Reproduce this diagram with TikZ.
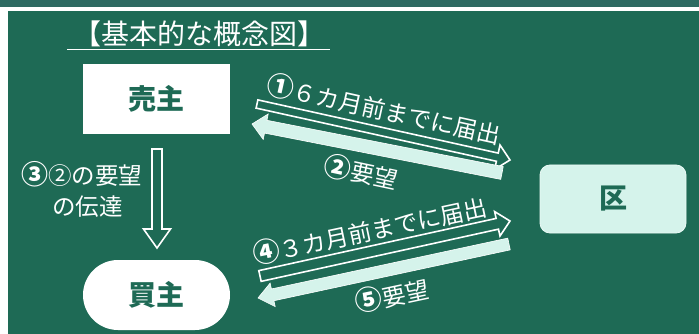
\documentclass[tikz,border=0pt]{standalone}
\usepackage{fontspec}
\setmainfont{Noto Sans CJK JP}
\usetikzlibrary{calc}
\definecolor{bg}{HTML}{1E6A55}
\definecolor{band}{HTML}{2E6A61}
\definecolor{mint}{HTML}{D5F3EB}
\definecolor{dk}{HTML}{1E6A55}
\newcommand{\blockarr}[6]{%
  \coordinate (bah) at ($(#2)!#5!(#1)$);
  \draw[#6] ($(#1)!#3!90:(#2)$) -- ($(bah)!#3!90:(#2)$) -- ($(bah)!#4!90:(#2)$) -- (#2)
    -- ($(bah)!#4!-90:(#2)$) -- ($(bah)!#3!-90:(#2)$) -- ($(#1)!#3!-90:(#2)$) -- cycle;}
\newcommand{\cnum}[1]{{\bfseries\fontsize{27}{27}\selectfont #1}}
\tikzset{
  lbl/.style={text=white,font=\fontsize{23.5}{25}\selectfont,inner sep=0pt},
  hollowarr/.style={draw=white,line width=1.6pt,line join=miter},
  fillarr/.style={fill=mint,draw=white,line width=0.6pt,line join=miter},
  party/.style={fill=white,text=dk,font=\bfseries\fontsize{28}{30}\selectfont,
    minimum width=147pt,minimum height=70pt,inner sep=0pt},
}
\begin{document}
\begin{tikzpicture}[x=1pt,y=-1pt]
\fill[white] (0,0) rectangle (699,334);
\fill[band] (0,0) rectangle (699,7.5);
\fill[bg] (8,11) rectangle (699,334);
\useasboundingbox (0,0) rectangle (699,334);

% title
\node[text=white,font=\fontsize{28}{30}\selectfont,inner sep=0pt] (title) at (199,34) {【基本的な概念図】};
\coordinate (ulA) at (67,49.5);
\coordinate (ulB) at (330,49.5);
\draw[white,line width=1.5pt] (ulA) -- (ulB);

% parties
\node[party] (seller) at (156.5,99) {売主};
\node[party,rounded corners=35pt] (buyer) at (156.5,295) {買主};
\node[fill=mint,draw=white!50!mint,line width=0.8pt,rounded corners=10pt,
  minimum width=146pt,minimum height=68pt,inner sep=0pt,text=dk,
  font=\bfseries\fontsize{28}{30}\selectfont] (ward) at (613,199) {区};

% down arrow seller -> buyer
\coordinate (d1) at (157,149);
\coordinate (d2) at (157,248);
\blockarr{d1}{d2}{5pt}{13.5pt}{19pt}{hollowarr}
\node[lbl] (l3a) at (81.5,174) {\cnum{③}②の要望};
\node[lbl] (l3b) at (87.5,207) {の伝達};

% seller <-> ward
\coordinate (a1s) at (257,104);
\coordinate (a1e) at (510,160);
\blockarr{a1s}{a1e}{4.2pt}{12.5pt}{13pt}{hollowarr}
\coordinate (a2s) at (502,173);
\coordinate (a2e) at (252,124);
\blockarr{a2s}{a2e}{6.5pt}{13pt}{14pt}{fillarr}
\node[lbl,rotate=-12.5] (l1) at (384,109) {\cnum{①}６カ月前までに届出};
\node[lbl,rotate=-12] (l2) at (361,172) {\cnum{②}要望};

% buyer <-> ward
\coordinate (a4s) at (260,276);
\coordinate (a4e) at (510,221);
\blockarr{a4s}{a4e}{5.5pt}{12.5pt}{13pt}{hollowarr}
\coordinate (a5s) at (509,244);
\coordinate (a5e) at (258,298);
\blockarr{a5s}{a5e}{6pt}{12pt}{15pt}{fillarr}
\node[lbl,rotate=12] (l4) at (370,230) {\cnum{④}３カ月前までに届出};
\node[lbl,rotate=12] (l5) at (392,295) {\cnum{⑤}要望};
\end{tikzpicture}
\end{document}
